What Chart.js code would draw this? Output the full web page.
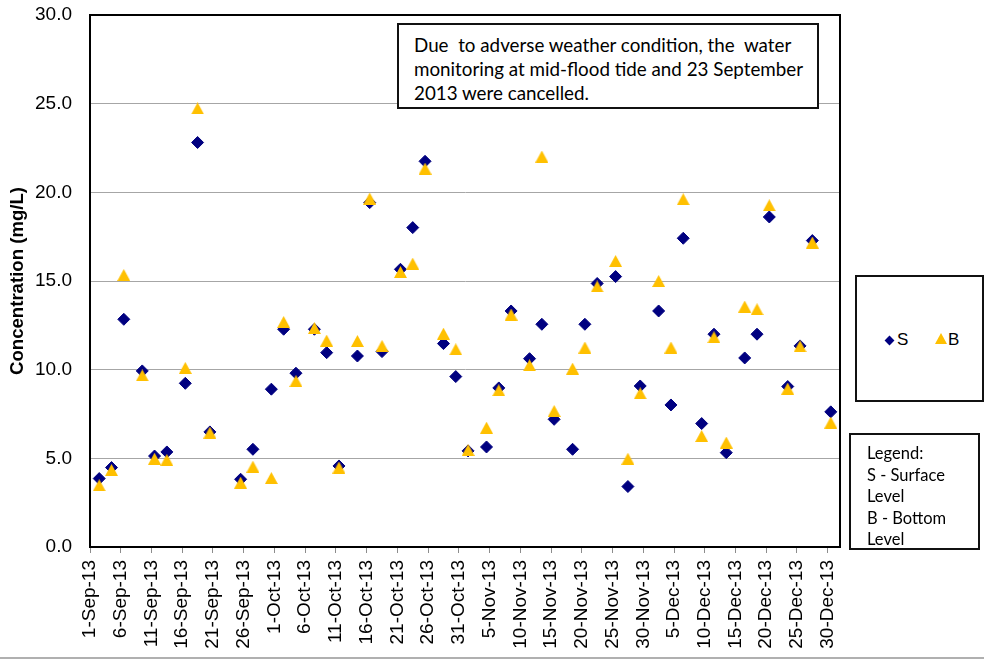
<!DOCTYPE html>
<html>
<head>
<meta charset="utf-8">
<script src="https://cdn.jsdelivr.net/npm/chart.js@4/dist/chart.umd.min.js"></script>
<style>
  html, body { margin: 0; padding: 0; background: #fff; }
  #wrap { position: relative; width: 984px; height: 661px; overflow: hidden; }
  #c { position: absolute; left: 0; top: 0; }
  .box { position: absolute; border: 2px solid #111; background: #fff; box-sizing: border-box; }
  #note { left: 397px; top: 23px; width: 422px; height: 86px; font-family: Lato, "Open Sans", sans-serif; font-size: 18.8px; line-height: 24px; padding: 8px 0 0 15px; white-space: pre; color: #000; }
  #leg1 { left: 855px; top: 275px; width: 129px; height: 127px; font-family: "Liberation Sans", Arial, sans-serif; font-size: 17px; color: #000; }
  #leg2 { left: 849px; top: 433px; width: 131px; height: 117px; overflow: hidden; font-family: Lato, "Open Sans", sans-serif; font-size: 16.5px; line-height: 21.6px; padding: 8px 0 0 16px; color: #000; white-space: pre; }
  .item { position: absolute; top: 53px; line-height: 20px; }
  .dia { position: absolute; width: 7px; height: 7px; background: #000080; transform: rotate(45deg); }
  .tri { position: absolute; width: 0; height: 0; border-left: 6px solid transparent; border-right: 6px solid transparent; border-bottom: 11px solid #FFC000; }
  #bline { position: absolute; left: 0; top: 657px; width: 984px; height: 2px; background: #b0b0b0; }
</style>
</head>
<body>
<div id="wrap">
  <canvas id="c" width="984" height="661"></canvas>
  <div id="note" class="box">Due  to adverse weather condition, the  water
monitoring at mid-flood tide and 23 September
2013 were cancelled.</div>
  <div id="leg1" class="box">
    <div class="dia" style="left:29px; top:60px;"></div>
    <div class="item" style="left:40px;">S</div>
    <div class="tri" style="left:78px; top:56px;"></div>
    <div class="item" style="left:91px;">B</div>
  </div>
  <div id="leg2" class="box">Legend:
S - Surface
Level
B - Bottom
Level</div>
  <div id="bline"></div>
</div>
<script>
// ---- data ----
const sampleDates = ['2013-09-02','2013-09-04','2013-09-06','2013-09-09','2013-09-11','2013-09-13','2013-09-16','2013-09-18','2013-09-20','2013-09-25','2013-09-27','2013-09-30','2013-10-02','2013-10-04','2013-10-07','2013-10-09','2013-10-11','2013-10-14','2013-10-16','2013-10-18','2013-10-21','2013-10-23','2013-10-25','2013-10-28','2013-10-30','2013-11-01','2013-11-04','2013-11-06','2013-11-08','2013-11-11','2013-11-13','2013-11-15','2013-11-18','2013-11-20','2013-11-22','2013-11-25','2013-11-27','2013-11-29','2013-12-02','2013-12-04','2013-12-06','2013-12-09','2013-12-11','2013-12-13','2013-12-16','2013-12-18','2013-12-20','2013-12-23','2013-12-25','2013-12-27','2013-12-30'];
const surfaceS = [3.86,4.48,12.84,9.93,5.13,5.36,9.23,22.81,6.49,3.82,5.51,8.90,12.28,9.80,12.28,10.96,4.57,10.77,19.42,11.02,15.66,18.01,21.75,11.47,9.61,5.42,5.64,8.97,13.31,10.62,12.56,7.20,5.51,12.56,14.86,15.25,3.41,9.08,13.31,8.01,17.41,6.96,12.00,5.32,10.66,12.00,18.61,9.05,11.34,17.28,7.62];
const bottomB = [3.48,4.34,15.34,9.68,4.98,4.91,10.10,24.73,6.45,3.63,4.53,3.89,12.69,9.36,12.35,11.64,4.48,11.62,19.65,11.34,15.51,15.98,21.34,12.03,11.15,5.47,6.73,8.84,13.11,10.25,22.02,7.67,10.06,11.25,14.69,16.13,4.98,8.67,15.00,11.25,19.61,6.26,11.83,5.89,13.56,13.41,19.27,8.93,11.32,17.17,7.02];
const tickDates = ['2013-09-01','2013-09-06','2013-09-11','2013-09-16','2013-09-21','2013-09-26','2013-10-01','2013-10-06','2013-10-11','2013-10-16','2013-10-21','2013-10-26','2013-10-31','2013-11-05','2013-11-10','2013-11-15','2013-11-20','2013-11-25','2013-11-30','2013-12-05','2013-12-10','2013-12-15','2013-12-20','2013-12-25','2013-12-30'];
const axisStart = '2013-09-01';
const axisEnd = '2014-01-02';
const yTicks = [0,5,10,15,20,25,30];
const yTitle = 'Concentration (mg/L)';

// ---- helpers ----
const MON = ['Jan','Feb','Mar','Apr','May','Jun','Jul','Aug','Sep','Oct','Nov','Dec'];
const DAY = 86400000;
const t0 = Date.parse(axisStart + 'T00:00:00Z');
const dayOf = s => Math.round((Date.parse(s + 'T00:00:00Z') - t0) / DAY);
const fmtDay = v => { const d = new Date(t0 + v * DAY); return d.getUTCDate() + '-' + MON[d.getUTCMonth()] + '-' + String(d.getUTCFullYear()).slice(2); };
const tickDays = tickDates.map(dayOf);

// triangle marker
const tri = document.createElement('canvas');
tri.width = 13; tri.height = 12;
(function(){ const g = tri.getContext('2d'); g.fillStyle = '#FFC000'; g.beginPath(); g.moveTo(6.5,0); g.lineTo(13,12); g.lineTo(0,12); g.closePath(); g.fill(); })();

const frame = {
  id: 'frame',
  beforeDatasetsDraw(chart) {
    const a = chart.chartArea, g = chart.ctx;
    g.save(); g.strokeStyle = '#000'; g.lineWidth = 2;
    g.strokeRect(a.left, a.top, a.right - a.left, a.bottom - a.top);
    g.restore();
  }
};

new Chart(document.getElementById('c'), {
  type: 'scatter',
  data: {
    datasets: [
      { label: 'S', data: sampleDates.map((d, i) => ({ x: dayOf(d) + 0.5, y: surfaceS[i] })),
        pointStyle: 'rectRot', pointRadius: 6, pointHoverRadius: 6, backgroundColor: '#000080', borderColor: '#000080', borderWidth: 1, order: 1 },
      { label: 'B', data: sampleDates.map((d, i) => ({ x: dayOf(d) + 0.5, y: bottomB[i] })),
        pointStyle: tri, pointRadius: 6, backgroundColor: '#FFC000', borderColor: '#FFC000', order: 0 }
    ]
  },
  options: {
    responsive: false, animation: false, devicePixelRatio: 1,
    layout: { padding: { left: 0, right: 144, top: 15, bottom: 0 } },
    plugins: { legend: { display: false }, tooltip: { enabled: false } },
    scales: {
      x: {
        type: 'linear', min: 0, max: dayOf(axisEnd) - 1,
        afterBuildTicks: s => { s.ticks = tickDays.map(v => ({ value: v })); },
        afterFit: s => { s.height = 114; s.paddingLeft = 0; s.paddingRight = 0; },
        ticks: { autoSkip: false, minRotation: 90, maxRotation: 90, padding: 7, color: '#000',
                 font: { family: '"Liberation Sans", Arial, sans-serif', size: 19 }, callback: v => fmtDay(v) },
        grid: { drawOnChartArea: false, drawTicks: true, tickLength: 6, color: '#8c8c8c' },
        border: { display: true, color: '#000', width: 2 }
      },
      y: {
        min: 0, max: 30,
        afterBuildTicks: s => { s.ticks = yTicks.map(v => ({ value: v })); },
        afterFit: s => { s.width = 90; s.paddingTop = 0; s.paddingBottom = 0; },
        ticks: { padding: 18, color: '#000', font: { family: '"Liberation Sans", Arial, sans-serif', size: 19 }, callback: v => v.toFixed(1) },
        grid: { color: '#a6a6a6', drawTicks: false, lineWidth: 1 },
        border: { display: true, color: '#000', width: 2 },
        title: { display: true, text: yTitle, color: '#000', font: { family: '"Liberation Sans", Arial, sans-serif', size: 18.6, weight: 'bold' }, padding: { top: 7, bottom: 0 } }
      }
    }
  },
  plugins: [frame]
});
</script>
</body>
</html>
